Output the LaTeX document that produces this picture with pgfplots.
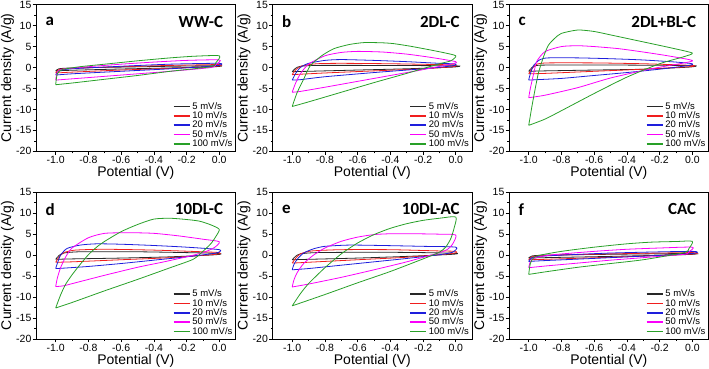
\documentclass[border=0pt]{standalone}
\usepackage{fontspec}
\setmainfont{Liberation Sans}
\newfontfamily\carl{Carlito}
\usepackage{pgfplots}
\usepgfplotslibrary{groupplots}
\pgfplotsset{compat=1.18}

\definecolor{cvk}{RGB}{40,40,40}
\definecolor{cvr}{RGB}{240,30,30}
\definecolor{cvb}{RGB}{30,30,220}
\definecolor{cvm}{RGB}{250,0,250}
\definecolor{cvg}{RGB}{40,160,40}

\pgfplotsset{
  cv/.style={line width=0.8pt, smooth, tension=0.4, mark=none},
  panel/.style={
    scale only axis, width=200pt, height=147pt,
    xmin=-1.12, xmax=0.1, ymin=-20, ymax=15,
    xtick={-1,-0.8,-0.6,-0.4,-0.2,0},
    ytick={-20,-15,-10,-5,0,5,10,15},
    minor x tick num=1, minor y tick num=1,
    xtick pos=left, ytick pos=left, tick align=outside,
    major tick length=3.5pt, minor tick length=2pt,
    tick style={black, line width=0.6pt},
    axis line style={black, line width=0.7pt},
    /pgf/number format/assume math mode=true,
    tick label style={font=\fontsize{10.5}{12}\selectfont},
    yticklabel style={inner sep=1pt},
    xticklabel style={inner sep=1.5pt, /pgf/number format/fixed,
      /pgf/number format/fixed zerofill, /pgf/number format/precision=1},
    label style={font=\fontsize{14}{16}\selectfont, inner sep=1pt},
    xlabel={Potential (V)}, ylabel={Current density (A/g)},
    legend style={at={(1,0)}, anchor=south east, draw=none, fill=none,
      font=\fontsize{9.5}{10}\selectfont, row sep=-3pt, inner sep=1pt},
    legend cell align=left,
    legend image code/.code={\draw[#1, line width=1.5pt] (0pt,0pt) -- (16pt,0pt);},
  },
}

\begin{document}
\begin{tikzpicture}
\begin{groupplot}[group style={group size=3 by 2, horizontal sep=37pt, vertical sep=41pt}, panel]

% ---- a: WW-C
\nextgroupplot
\addplot[cv, cvk] coordinates {(-1,-0.8) (-0.98,-0.3) (-0.9,-0.1) (-0.6,0.1) (-0.3,0.3) (0,0.45) (-0.02,0.2) (-0.3,-0.1) (-0.6,-0.35) (-0.9,-0.65) (-1,-0.8)};
\addplot[cv, cvr] coordinates {(-1,-1.3) (-0.98,-0.5) (-0.9,-0.2) (-0.6,0.2) (-0.3,0.5) (0,0.7) (-0.02,0.3) (-0.3,-0.2) (-0.6,-0.6) (-0.9,-1.1) (-1,-1.3)};
\addplot[cv, cvb] coordinates {(-1,-1.8) (-0.98,-0.8) (-0.9,-0.3) (-0.6,0.3) (-0.3,0.8) (0,1.0) (-0.02,0.4) (-0.3,-0.3) (-0.6,-0.9) (-0.9,-1.5) (-1,-1.8)};
\addplot[cv, cvm] coordinates {(-1,-3.0) (-0.99,-1.2) (-0.96,-0.4) (-0.8,0.2) (-0.6,0.8) (-0.4,1.3) (-0.2,1.7) (0,1.8) (-0.02,0.7) (-0.05,0.0) (-0.3,-0.9) (-0.5,-1.5) (-0.7,-2.1) (-0.9,-2.7) (-1,-3.0)};
\addplot[cv, cvg] coordinates {(-1,-4.1) (-0.99,-1.5) (-0.96,-0.5) (-0.85,0.2) (-0.7,0.8) (-0.5,1.6) (-0.3,2.3) (-0.15,2.7) (0,2.8) (-0.02,1.2) (-0.05,0.2) (-0.3,-0.9) (-0.5,-1.9) (-0.7,-2.8) (-0.9,-3.7) (-1,-4.1)};
\legend{5 mV/s,10 mV/s,20 mV/s,50 mV/s,100 mV/s}
\node[anchor=west] at (rel axis cs:0.03,0.885) {\carl\bfseries\fontsize{17}{18}\selectfont a};
\node[anchor=east] at (rel axis cs:0.955,0.885) {\carl\bfseries\fontsize{17}{18}\selectfont WW-C};

% ---- b: 2DL-C
\nextgroupplot
\addplot[cv, cvk] coordinates {(-1,-1.0) (-0.98,-0.2) (-0.95,0.3) (-0.85,0.5) (-0.5,0.5) (0,0.4) (-0.02,0.1) (-0.3,-0.3) (-0.6,-0.6) (-0.9,-0.9) (-1,-1.0)};
\addplot[cv, cvr] coordinates {(-1,-1.7) (-0.98,-0.6) (-0.94,0.4) (-0.85,0.9) (-0.7,1.0) (-0.4,0.9) (-0.1,0.7) (0,0.6) (-0.02,0.2) (-0.2,-0.3) (-0.5,-0.8) (-0.8,-1.3) (-0.95,-1.6) (-1,-1.7)};
\addplot[cv, cvb] coordinates {(-1,-3.0) (-0.98,-1.5) (-0.95,0) (-0.9,1.0) (-0.8,1.7) (-0.7,1.9) (-0.5,1.7) (-0.3,1.4) (-0.1,1.0) (0,0.85) (-0.02,0.4) (-0.2,-0.3) (-0.5,-1.2) (-0.8,-2.2) (-0.95,-2.9) (-1,-3.0)};
\addplot[cv, cvm] coordinates {(-1,-5.9) (-0.98,-3.8) (-0.95,-1.5) (-0.9,0.8) (-0.8,2.8) (-0.7,3.6) (-0.6,3.85) (-0.45,3.7) (-0.3,3.2) (-0.15,2.4) (0,1.4) (-0.02,0.9) (-0.2,-0.5) (-0.4,-1.9) (-0.6,-3.3) (-0.8,-4.7) (-0.95,-5.7) (-1,-5.9)};
\addplot[cv, cvg] coordinates {(-1,-9.3) (-0.97,-6.0) (-0.93,-2.8) (-0.89,0.4) (-0.82,2.8) (-0.745,4.5) (-0.65,5.5) (-0.56,5.95) (-0.45,5.9) (-0.38,5.7) (-0.28,5.1) (-0.17,4.3) (-0.08,3.6) (0,2.8) (-0.03,1.6) (-0.1,0.9) (-0.3,-1.4) (-0.5,-3.6) (-0.7,-5.9) (-0.9,-8.2) (-1,-9.3)};
\legend{5 mV/s,10 mV/s,20 mV/s,50 mV/s,100 mV/s}
\node[anchor=west] at (rel axis cs:0.03,0.885) {\carl\bfseries\fontsize{17}{18}\selectfont b};
\node[anchor=east] at (rel axis cs:0.955,0.885) {\carl\bfseries\fontsize{17}{18}\selectfont 2DL-C};

% ---- c: 2DL+BL-C
\nextgroupplot
\addplot[cv, cvk] coordinates {(-1,-0.9) (-0.98,0) (-0.95,0.5) (-0.85,0.6) (-0.5,0.6) (0,0.45) (-0.02,0.1) (-0.3,-0.4) (-0.6,-0.6) (-0.9,-0.8) (-1,-0.9)};
\addplot[cv, cvr] coordinates {(-1,-1.5) (-0.98,-0.3) (-0.95,0.8) (-0.88,1.1) (-0.6,1.1) (-0.3,0.9) (0,0.5) (-0.02,0.2) (-0.3,-0.4) (-0.6,-0.9) (-0.9,-1.4) (-1,-1.5)};
\addplot[cv, cvb] coordinates {(-1,-3.0) (-0.99,-1.5) (-0.97,0.5) (-0.93,1.9) (-0.88,2.3) (-0.7,2.3) (-0.5,2.1) (-0.3,1.8) (-0.1,1.3) (0,0.9) (-0.02,0.5) (-0.2,-0.4) (-0.4,-1.2) (-0.6,-1.9) (-0.8,-2.6) (-0.95,-2.9) (-1,-3.0)};
\addplot[cv, cvm] coordinates {(-1,-7.2) (-0.99,-5.0) (-0.97,-1.5) (-0.95,1.5) (-0.9,3.8) (-0.8,5.0) (-0.7,5.2) (-0.6,5.0) (-0.45,4.5) (-0.3,3.7) (-0.15,2.8) (0,1.7) (-0.05,1.1) (-0.25,-0.3) (-0.5,-2.5) (-0.7,-4.8) (-0.9,-6.6) (-1,-7.2)};
\addplot[cv, cvg] coordinates {(-1,-13.8) (-0.99,-11.5) (-0.98,-9.2) (-0.96,-5.0) (-0.94,-1.2) (-0.91,2.5) (-0.88,5.3) (-0.84,7.0) (-0.8,8.15) (-0.7,8.95) (-0.6,8.6) (-0.49,7.7) (-0.37,6.7) (-0.25,5.7) (-0.12,4.6) (0,3.45) (-0.05,2.6) (-0.2,0.9) (-0.4,-2.3) (-0.6,-6.2) (-0.8,-10.3) (-0.9,-12.3) (-1,-13.8)};
\legend{5 mV/s,10 mV/s,20 mV/s,50 mV/s,100 mV/s}
\node[anchor=west] at (rel axis cs:0.03,0.885) {\carl\bfseries\fontsize{17}{18}\selectfont c};
\node[anchor=east] at (rel axis cs:0.955,0.885) {\carl\bfseries\fontsize{17}{18}\selectfont 2DL+BL-C};

% ---- d: 10DL-C
\nextgroupplot
\addplot[cv, cvk] coordinates {(-1,-1.0) (-0.98,-0.1) (-0.95,0.5) (-0.85,0.8) (-0.5,0.8) (-0.2,0.6) (0,0.4) (-0.02,0.1) (-0.3,-0.4) (-0.6,-0.7) (-0.9,-0.9) (-1,-1.0)};
\addplot[cv, cvr] coordinates {(-1,-1.7) (-0.98,-0.5) (-0.95,0.6) (-0.88,1.2) (-0.7,1.4) (-0.4,1.2) (-0.1,0.8) (0,0.6) (-0.02,0.2) (-0.3,-0.6) (-0.6,-1.1) (-0.9,-1.6) (-1,-1.7)};
\addplot[cv, cvb] coordinates {(-1,-3.2) (-0.99,-2.0) (-0.97,0) (-0.93,1.6) (-0.85,2.4) (-0.75,2.7) (-0.6,2.6) (-0.4,2.3) (-0.2,1.9) (0,1.3) (-0.02,0.5) (-0.2,-0.4) (-0.4,-1.2) (-0.6,-2.0) (-0.8,-2.7) (-0.95,-3.1) (-1,-3.2)};
\addplot[cv, cvm] coordinates {(-1,-7.5) (-0.99,-5.5) (-0.97,-3.0) (-0.94,-0.5) (-0.9,1.7) (-0.8,4.15) (-0.7,5.2) (-0.55,5.35) (-0.4,5.2) (-0.25,4.6) (-0.1,3.8) (0,3.2) (-0.03,1.8) (-0.1,0.6) (-0.2,-0.4) (-0.35,-1.7) (-0.5,-2.9) (-0.7,-4.8) (-0.85,-6.3) (-0.95,-7.3) (-1,-7.5)};
\addplot[cv, cvg] coordinates {(-1,-12.6) (-0.97,-9.5) (-0.94,-7.0) (-0.9,-4.7) (-0.85,-2.2) (-0.8,0.1) (-0.75,1.9) (-0.7,3.3) (-0.6,5.6) (-0.5,7.3) (-0.4,8.6) (-0.3,8.8) (-0.2,8.5) (-0.12,8.1) (-0.05,7.2) (0,6.15) (-0.02,4.5) (-0.05,2.8) (-0.1,0.9) (-0.16,-1.0) (-0.3,-3.0) (-0.5,-5.8) (-0.7,-8.5) (-0.9,-11.3) (-1,-12.6)};
\legend{5 mV/s,10 mV/s,20 mV/s,50 mV/s,100 mV/s}
\node[anchor=west] at (rel axis cs:0.03,0.885) {\carl\bfseries\fontsize{17}{18}\selectfont d};
\node[anchor=east] at (rel axis cs:0.955,0.885) {\carl\bfseries\fontsize{17}{18}\selectfont 10DL-C};

% ---- e: 10DL-AC
\nextgroupplot
\addplot[cv, cvk] coordinates {(-1,-1.1) (-0.98,-0.3) (-0.95,0.3) (-0.85,0.6) (-0.5,0.7) (-0.2,0.6) (0,0.45) (-0.02,0.2) (-0.3,-0.3) (-0.6,-0.7) (-0.9,-1.0) (-1,-1.1)};
\addplot[cv, cvr] coordinates {(-1,-1.9) (-0.98,-0.8) (-0.95,0.3) (-0.88,1.0) (-0.7,1.3) (-0.4,1.3) (-0.1,1.0) (0,0.9) (-0.02,0.4) (-0.3,-0.5) (-0.6,-1.1) (-0.9,-1.7) (-1,-1.9)};
\addplot[cv, cvb] coordinates {(-1,-3.5) (-0.99,-2.3) (-0.97,-1.0) (-0.93,0.5) (-0.87,1.5) (-0.8,2.1) (-0.65,2.4) (-0.45,2.3) (-0.2,2.1) (0,1.9) (-0.02,0.7) (-0.1,0.1) (-0.3,-0.8) (-0.5,-1.6) (-0.7,-2.4) (-0.9,-3.2) (-1,-3.5)};
\addplot[cv, cvm] coordinates {(-1,-7.6) (-0.99,-6.0) (-0.97,-4.2) (-0.93,-2.0) (-0.87,0) (-0.8,1.7) (-0.7,3.3) (-0.6,4.3) (-0.5,4.9) (-0.4,5.1) (-0.25,5.1) (-0.1,5.0) (0,4.8) (-0.02,2.6) (-0.05,1.4) (-0.1,0.6) (-0.3,-1.6) (-0.5,-3.5) (-0.7,-5.3) (-0.9,-6.9) (-1,-7.6)};
\addplot[cv, cvg] coordinates {(-1,-12.1) (-0.95,-9.2) (-0.9,-6.8) (-0.8,-3.0) (-0.7,0.3) (-0.6,2.9) (-0.5,4.9) (-0.4,6.4) (-0.3,7.5) (-0.2,8.3) (-0.1,8.8) (0,9.1) (-0.01,6.5) (-0.03,4.0) (-0.06,2.0) (-0.1,0.7) (-0.2,-0.9) (-0.4,-3.9) (-0.6,-6.6) (-0.8,-9.4) (-1,-12.1)};
\legend{5 mV/s,10 mV/s,20 mV/s,50 mV/s,100 mV/s}
\node[anchor=west] at (rel axis cs:0.03,0.885) {\carl\bfseries\fontsize{17}{18}\selectfont e};
\node[anchor=east] at (rel axis cs:0.955,0.885) {\carl\bfseries\fontsize{17}{18}\selectfont 10DL-AC};

% ---- f: CAC
\nextgroupplot
\addplot[cv, cvk] coordinates {(-1,-0.7) (-0.98,-0.2) (-0.9,0) (-0.5,0.2) (0,0.4) (-0.02,0.15) (-0.5,-0.3) (-0.9,-0.6) (-1,-0.7)};
\addplot[cv, cvr] coordinates {(-1,-1.1) (-0.98,-0.4) (-0.9,-0.1) (-0.5,0.3) (0,0.6) (-0.02,0.2) (-0.5,-0.5) (-0.9,-1.0) (-1,-1.1)};
\addplot[cv, cvb] coordinates {(-1,-1.5) (-0.98,-0.6) (-0.9,-0.2) (-0.5,0.5) (0,0.9) (-0.02,0.3) (-0.5,-0.6) (-0.9,-1.3) (-1,-1.5)};
\addplot[cv, cvm] coordinates {(-1,-3.0) (-0.99,-1.6) (-0.96,-0.6) (-0.85,0.1) (-0.6,0.9) (-0.4,1.4) (-0.2,1.7) (0,1.9) (-0.02,0.8) (-0.05,0.2) (-0.3,-0.6) (-0.5,-1.2) (-0.7,-1.9) (-0.9,-2.6) (-1,-3.0)};
\addplot[cv, cvg] coordinates {(-1,-4.6) (-0.99,-2.0) (-0.97,-0.6) (-0.93,0) (-0.8,0.9) (-0.6,1.9) (-0.4,2.7) (-0.25,3.1) (-0.1,3.25) (0,3.3) (-0.02,1.6) (-0.05,0.6) (-0.3,-1.1) (-0.5,-2.0) (-0.7,-2.9) (-0.9,-4.0) (-1,-4.6)};
\legend{5 mV/s,10 mV/s,20 mV/s,50 mV/s,100 mV/s}
\node[anchor=west] at (rel axis cs:0.03,0.885) {\carl\bfseries\fontsize{17}{18}\selectfont f};
\node[anchor=east] at (rel axis cs:0.955,0.885) {\carl\bfseries\fontsize{17}{18}\selectfont CAC};

\end{groupplot}
\end{tikzpicture}
\end{document}
